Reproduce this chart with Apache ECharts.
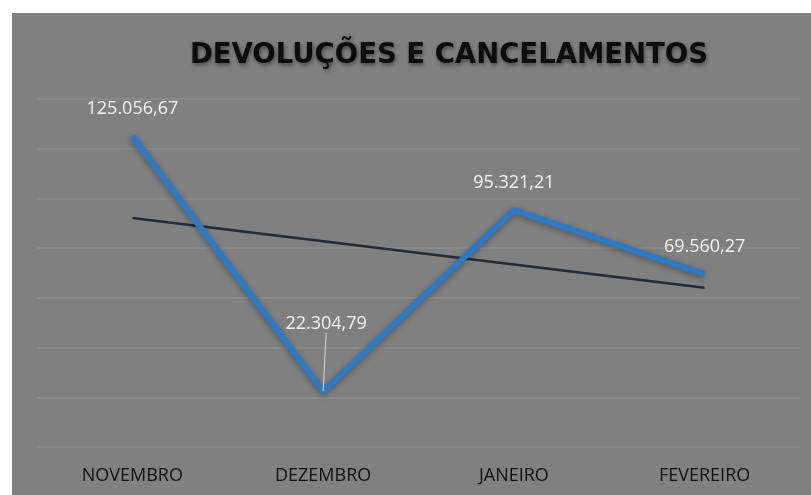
<!DOCTYPE html>
<html>
<head>
<meta charset="utf-8">
<script src="https://cdn.jsdelivr.net/npm/echarts@6/dist/echarts.min.js"></script>
<style>
html,body{margin:0;padding:0;background:#ffffff;}
#chart{width:811px;height:495px;}
</style>
</head>
<body>
<div id="chart"></div>
<script>
const categories = ['NOVEMBRO', 'DEZEMBRO', 'JANEIRO', 'FEVEREIRO'];
const values = [125056.67, 22304.79, 95321.21, 69560.27];
const valueLabels = ['125.056,67', '22.304,79', '95.321,21', '69.560,27'];
const trendValues = [92080, 82735, 73390, 64040];
const yMin = 0, yMax = 140000, yInterval = 20000;

const chart = echarts.init(document.getElementById('chart'));
chart.setOption({
  backgroundColor: '#ffffff',
  animation: false,
  graphic: [{
    type: 'rect', z: -10, silent: true,
    shape: {x: 12, y: 13, width: 811, height: 495},
    style: {fill: '#808080'}
  }],
  title: {
    text: 'DEVOLUÇÕES E CANCELAMENTOS',
    left: 444, top: 37, textAlign: 'center',
    textStyle: {
      fontFamily: 'DejaVu Sans', fontWeight: 'bold', fontSize: 27.5, color: '#0d0d0d',
      textShadowColor: 'rgba(0,0,0,0.45)', textShadowBlur: 4, textShadowOffsetX: 1, textShadowOffsetY: 2
    }
  },
  grid: {left: 37, right: 11, top: 99, bottom: 48},
  xAxis: {
    type: 'category', data: categories, boundaryGap: true,
    axisLine: {show: false}, axisTick: {show: false},
    axisLabel: {color: '#111111', fontFamily: 'Open Sans', fontSize: 18, margin: 20}
  },
  yAxis: {
    type: 'value', min: yMin, max: yMax, interval: yInterval,
    axisLabel: {show: false}, axisLine: {show: false}, axisTick: {show: false},
    splitLine: {lineStyle: {color: '#8c8c8c', width: 1.5}}
  },
  series: [{
    type: 'line', data: trendValues, symbol: 'none', z: 2,
    lineStyle: {color: '#222b38', width: 2.5}
  }, {
    type: 'line', z: 3,
    data: values.map((v, i) => i === 1 ? {
      value: v,
      labelLine: {show: true, lineStyle: {color: '#d9d9d9', width: 1}}
    } : v),
    symbol: 'circle', symbolSize: 1, showSymbol: true,
    itemStyle: {color: 'rgba(0,0,0,0)'},
    lineStyle: {color: '#2f7ac4', width: 6, shadowColor: 'rgba(0,0,0,0.35)', shadowBlur: 6, shadowOffsetY: 2},
    label: {
      show: true, position: 'top', distance: 18,
      color: '#f2f2f2', fontFamily: 'Open Sans', fontSize: 18,
      formatter: p => valueLabels[p.dataIndex]
    },
    labelLayout: p => p.dataIndex === 1 ? {dy: -40, dx: 3} : {},
    labelLine: {show: false, lineStyle: {color: '#d9d9d9', width: 1}}
  }]
});
</script>
</body>
</html>
